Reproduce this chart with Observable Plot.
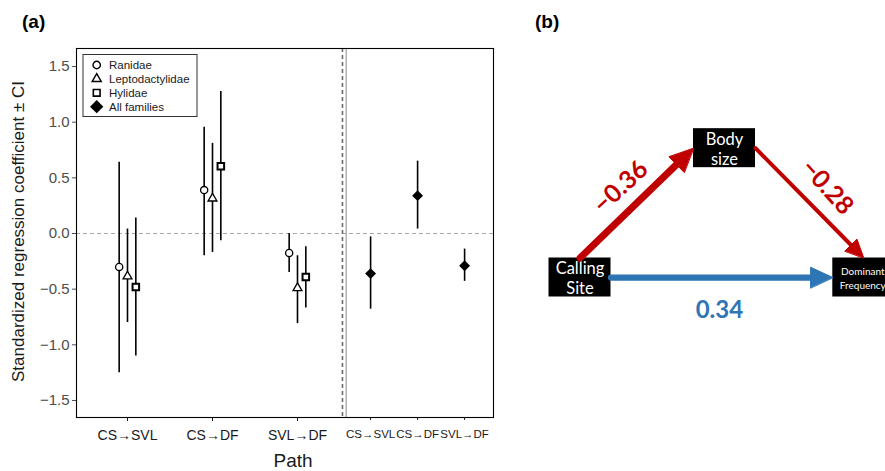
<!DOCTYPE html>
<html>
<head>
<meta charset="utf-8">
<script src="https://cdn.jsdelivr.net/npm/d3@7"></script>
<script src="https://cdn.jsdelivr.net/npm/@observablehq/plot@0.6"></script>
<style>
  body { margin: 0; background: #fff; }
  #wrap { position: relative; width: 885px; height: 471px; overflow: hidden; font-family: "Liberation Sans", Arial, sans-serif; }
  .abs { position: absolute; }
</style>
</head>
<body>
<div id="wrap"></div>
<script>
// ---------- Panel (a) data ----------
const paths = ["CS→SVL", "CS→DF", "SVL→DF"];
const families = ["Ranidae", "Leptodactylidae", "Hylidae"];
const ranidaeEst = [-0.30, 0.39, -0.175];
const ranidaeLo  = [-1.25, -0.20, -0.35];
const ranidaeHi  = [0.64, 0.955, 0.00];
const leptoEst = [-0.385, 0.315, -0.49];
const leptoLo  = [-0.80, -0.17, -0.81];
const leptoHi  = [0.04, 0.81, -0.20];
const hylidaeEst = [-0.48, 0.605, -0.39];
const hylidaeLo  = [-1.10, -0.065, -0.67];
const hylidaeHi  = [0.14, 1.275, -0.12];
const allEst = [-0.36, 0.34, -0.29];
const allLo  = [-0.68, 0.04, -0.43];
const allHi  = [-0.03, 0.65, -0.14];
const yTicks = [-1.5, -1, -0.5, 0, 0.5, 1, 1.5];

// ---------- Panel (b) data ----------
const nodeNames = ["Calling\nSite", "Body\nsize", "Dominant\nFrequency"];
const nodeX = [0, 1, 1.964];
const nodeY = [0, 0.895, 0];
const effectFrom = [0, 1, 0];
const effectTo = [1, 2, 2];
const effectValue = [-0.36, -0.28, 0.34];

// ---------- layout ----------
const xLeft = i => i + 1;
const xRight = i => 3.86 + 0.553 * i;
const dodge = [-0.098, 0, 0.098];
const famData = [
  [ranidaeEst, ranidaeLo, ranidaeHi],
  [leptoEst, leptoLo, leptoHi],
  [hylidaeEst, hylidaeLo, hylidaeHi]
];
const famRows = families.flatMap((f, k) => paths.map((p, i) => ({
  family: f, k, x: xLeft(i) + dodge[k],
  est: famData[k][0][i], lo: famData[k][1][i], hi: famData[k][2][i]
})));
const allRows = paths.map((p, i) => ({ x: xRight(i), est: allEst[i], lo: allLo[i], hi: allHi[i] }));
const leftTicks = paths.map((p, i) => xLeft(i));
const rightTicks = paths.map((p, i) => xRight(i));
const labelAt = new Map([...leftTicks.map((t, i) => [t, paths[i]]), ...rightTicks.map((t, i) => [t, paths[i]])]);

const fontStack = "'Liberation Sans', Arial, Helvetica, sans-serif";
const fmt1 = d3.format(".1f");

const plotA = Plot.plot({
  width: 510, height: 471,
  marginLeft: 76, marginRight: 17, marginTop: 48, marginBottom: 54,
  x: { domain: [0.4, 5.306] },
  y: { domain: [-1.653, 1.662] },
  style: { fontFamily: fontStack, background: "transparent", overflow: "visible" },
  marks: [
    Plot.ruleY([0], { stroke: "#a8a8a8", strokeWidth: 1.1, strokeDasharray: "4,3" }),
    Plot.ruleX([3.529], { stroke: "#6b6b6b", strokeWidth: 1.6, strokeDasharray: "4,3" }),
    Plot.ruleX([3.573], { stroke: "#a0a0a0", strokeWidth: 1.2 }),
    Plot.ruleX(famRows, { x: "x", y1: "lo", y2: "hi", stroke: "black", strokeWidth: 1.6 }),
    Plot.ruleX(allRows, { x: "x", y1: "lo", y2: "hi", stroke: "black", strokeWidth: 1.6 }),
    Plot.dot(famRows.filter(d => d.k === 0), { x: "x", y: "est", symbol: "circle", r: 3.6, fill: "white", stroke: "black", strokeWidth: 1.3 }),
    Plot.dot(famRows.filter(d => d.k === 1), { x: "x", y: "est", symbol: "triangle", r: 3.3, fill: "white", stroke: "black", strokeWidth: 1.3 }),
    Plot.dot(famRows.filter(d => d.k === 2), { x: "x", y: "est", symbol: "square", r: 3.7, fill: "white", stroke: "black", strokeWidth: 2 }),
    Plot.dot(allRows, { x: "x", y: "est", symbol: "diamond2", r: 4.9, fill: "black" }),
    Plot.frame({ stroke: "black", strokeWidth: 1.1 }),
    Plot.axisY({ ticks: yTicks, tickFormat: fmt1, tickSize: 4, tickPadding: 3, fontSize: 15, color: "#4d4d4d", label: null }),
    Plot.axisX({ ticks: leftTicks, tickFormat: d => labelAt.get(d), tickSize: 4, tickPadding: 9, fontSize: 14, color: "#1a1a1a", label: null }),
    Plot.axisX({ ticks: rightTicks, tickFormat: d => labelAt.get(d), tickSize: 3, tickPadding: 9, fontSize: 11.5, color: "#1a1a1a", label: null })
  ]
});

// ---------- Panel (b) ----------
const U = 144.5;              // px per diagram unit
const halfW = 31 / U, halfH = 19.5 / U;
const nodes = nodeNames.map((name, i) => ({
  name, x: nodeX[i], y: nodeY[i],
  x1: nodeX[i] - halfW, x2: nodeX[i] + halfW, y1: nodeY[i] - halfH, y2: nodeY[i] + halfH,
  fs: name.startsWith("Dominant") ? 10 : 16.5,
  small: name.startsWith("Dominant")
}));
function anchor(n, side) {
  if (side === "top") return [n.x, n.y2];
  if (side === "left") return [n.x1, n.y];
  if (side === "right") return [n.x2, n.y];
  return [n.x, n.y1];
}
const fromSide = ["top", "right", "right"];
const toSide = ["left", "top", "left"];
const widthOf = v => 37.5 * Math.abs(v) - 6.5;
const colorOf = v => v < 0 ? "#C00000" : "#2E75B6";
const fmt2 = d3.format(".2f");
const labelOffset = [[-16, -16, -43], [17.5, -16, 48], [-2.5, 33, 0]];

const bMarks = [];
effectValue.forEach((v, i) => {
  const [sx, sy] = anchor(nodes[effectFrom[i]], fromSide[i]);
  const [tx, ty] = anchor(nodes[effectTo[i]], toSide[i]);
  const len = Math.hypot(tx - sx, ty - sy);
  const ux = (tx - sx) / len, uy = (ty - sy) / len;
  const w = widthOf(v);
  const L = (11 + 1.8 * w) / U, Wh = (5 + 0.85 * w) / U;
  const bx = tx - L * ux, by = ty - L * uy;
  const col = colorOf(v);
  bMarks.push(Plot.link([{ sx, sy, ex: bx + ux / U, ey: by + uy / U }], {
    x1: "sx", y1: "sy", x2: "ex", y2: "ey", stroke: col, strokeWidth: w, strokeLinecap: "round"
  }));
  const head = [
    { x: tx, y: ty },
    { x: bx - Wh * uy, y: by + Wh * ux },
    { x: bx + Wh * uy, y: by - Wh * ux }
  ];
  bMarks.push(Plot.line(head, { x: "x", y: "y", curve: "linear-closed", fill: col, stroke: col, strokeWidth: 1, strokeLinejoin: "miter" }));
  const [ox, oy, rot] = labelOffset[i];
  bMarks.push(Plot.text([{ x: (sx + tx) / 2, y: (sy + ty) / 2, t: fmt2(v) }], {
    x: "x", y: "y", text: "t", dx: ox, dy: oy, rotate: rot, fill: col,
    fontSize: i === 2 ? 24 : 25, fontWeight: "bold", fontFamily: "Lato, 'Open Sans', sans-serif"
  }));
});

const plotB = Plot.plot({
  width: 365, height: 330, margin: 0,
  x: { domain: [-59.5 / U, 305.5 / U], axis: null },
  y: { domain: [-53 / U, 277 / U], axis: null },
  style: { background: "transparent" },
  marks: [
    Plot.rect(nodes, { x1: "x1", x2: "x2", y1: "y1", y2: "y2", fill: "black" }),
    Plot.text(nodes.filter(d => !d.small), { x: "x", y: "y", text: "name", fill: "white", fontSize: 16.5, lineHeight: 1.2, dy: 0.5, fontFamily: "Lato, 'Open Sans', sans-serif" }),
    Plot.text(nodes.filter(d => d.small), { x: "x", y: "y", text: "name", fill: "white", fontSize: 10, lineHeight: 1.45, dx: -1, dy: 0, fontFamily: "Lato, 'Open Sans', sans-serif" }),
    ...bMarks
  ]
});

// ---------- assemble ----------
const wrap = document.getElementById("wrap");
plotA.classList.add("abs"); plotA.style.left = "0px"; plotA.style.top = "0px";
wrap.appendChild(plotA);
const bDiv = document.createElement("div");
bDiv.className = "abs"; bDiv.style.left = "520px"; bDiv.style.top = "0px";
bDiv.appendChild(plotB);
wrap.appendChild(bDiv);

// overlay: titles and legend
const ov = d3.select(wrap).append("svg").attr("class", "abs")
  .attr("width", 885).attr("height", 471)
  .style("left", "0px").style("top", "0px").style("pointer-events", "none")
  .style("font-family", fontStack);
ov.append("text").attr("x", 22).attr("y", 28).attr("font-size", 19).attr("font-weight", "bold").text("(a)");
ov.append("text").attr("x", 535).attr("y", 28).attr("font-size", 19).attr("font-weight", "bold").text("(b)");
ov.append("text").attr("transform", "translate(23.5,231.5) rotate(-90)").attr("text-anchor", "middle")
  .attr("font-size", 17).attr("fill", "#1a1a1a").text("Standardized regression coefficient ± CI");
ov.append("text").attr("x", 293).attr("y", 467).attr("text-anchor", "middle").attr("font-size", 19).attr("fill", "#1a1a1a").text("Path");

// legend
const leg = ov.append("g");
leg.append("rect").attr("x", 83).attr("y", 54.5).attr("width", 114).attr("height", 62)
  .attr("fill", "white").attr("stroke", "#333").attr("stroke-width", 1);
const legItems = [
  { label: families[0], sym: d3.symbolCircle, r: 3.7, fill: "white", sw: 1.4 },
  { label: families[1], sym: d3.symbolTriangle, r: 3.4, fill: "white", sw: 1.4 },
  { label: families[2], sym: d3.symbolSquare, r: 3.8, fill: "white", sw: 1.6 },
  { label: "All families", sym: d3.symbolDiamond2, r: 6, fill: "black", sw: 0 }
];
legItems.forEach((it, i) => {
  const cy = 65 + i * 13.9;
  leg.append("path").attr("transform", `translate(96.7,${cy})`)
    .attr("d", d3.symbol(it.sym, it.r * it.r * Math.PI)())
    .attr("fill", it.fill).attr("stroke", it.sw ? "black" : "none").attr("stroke-width", it.sw);
  leg.append("text").attr("x", 109).attr("y", cy + 4).attr("font-size", 11.5).attr("fill", "#1a1a1a").text(it.label);
});
</script>
</body>
</html>
